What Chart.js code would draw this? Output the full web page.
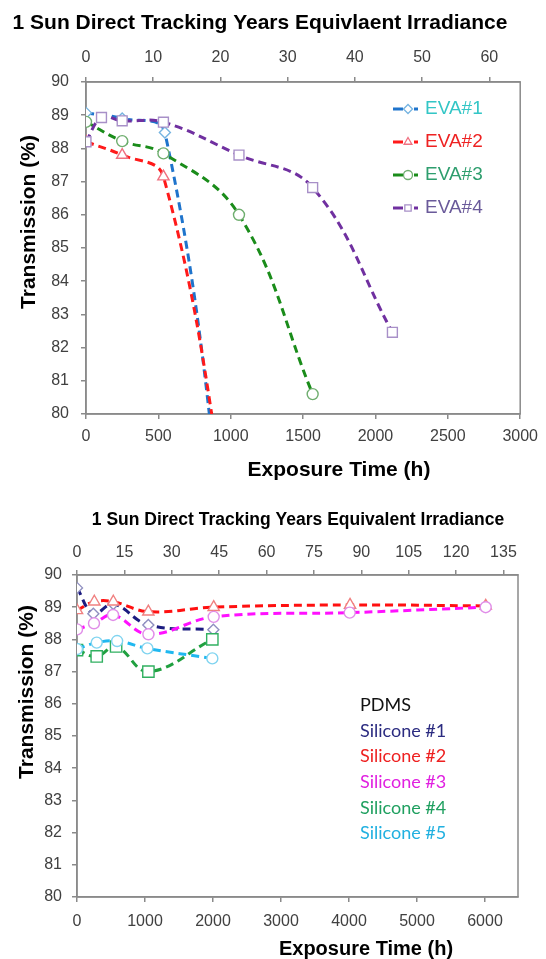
<!DOCTYPE html>
<html>
<head>
<meta charset="utf-8">
<script src="https://cdn.jsdelivr.net/npm/chart.js@4.4.1/dist/chart.umd.min.js"></script>
<style>
  body { margin: 0; background: #fff; }
  canvas { display: block; }
</style>
</head>
<body>
<canvas id="evaCV" width="546" height="490"></canvas>
<canvas id="siCV" width="546" height="469"></canvas>
<script>
// ---- top panel: EVA ----
const evaLabels = ['EVA#1', 'EVA#2', 'EVA#3', 'EVA#4'];
const eva1Hours = [0, 250, 545, 1057];
const eva1Trans = [89.07, 88.9, 88.48, 72.5];
const eva2Hours = [0, 250, 535, 1057];
const eva2Trans = [88.2, 87.8, 87.15, 75.0];
const eva3Hours = [0, 250, 535, 1057, 1566];
const eva3Trans = [88.8, 88.22, 87.85, 86.0, 80.6];
const eva4Hours = [0, 107, 250, 535, 1057, 1566, 2117];
const eva4Trans = [88.2, 88.93, 88.83, 88.79, 87.8, 86.82, 82.46];
const evaYearsMax = 64.6;   // top axis, years equivalent at 3000 h

// ---- bottom panel: silicones ----
const siLabels = ['PDMS', 'Silicone #1', 'Silicone #2', 'Silicone #3', 'Silicone #4', 'Silicone #5'];
const pdmsHours = [];
const pdmsTrans = [];
const si1Hours = [0, 240, 534, 1049, 2005];
const si1Trans = [89.6, 88.8, 89.1, 88.45, 88.3];
const si2Hours = [0, 255, 534, 1049, 2010, 4015, 6010];
const si2Trans = [88.9, 89.17, 89.17, 88.86, 89.0, 89.07, 89.04];
const si3Hours = [0, 250, 530, 1050, 2010, 4010, 6010];
const si3Trans = [88.31, 88.5, 88.76, 88.16, 88.7, 88.83, 89.0];
const si4Hours = [0, 290, 575, 1050, 1990];
const si4Trans = [87.67, 87.47, 87.78, 87.0, 88.0];
const si5Hours = [0, 290, 590, 1035, 1990];
const si5Trans = [87.7, 87.9, 87.95, 87.72, 87.41];
const siHoursMax = 6485;
const siYearsMax = 139.6;

const tickFont = { family: "'Liberation Sans', Arial, sans-serif", size: 16 };
const tickColor = '#404040';
const axisColor = '#8a8a8a';
const boldFont = "bold 21px 'Liberation Sans', Arial, sans-serif";

function pts(hours, vals) {
  return hours.map(function(h, i) { return { x: h, y: vals[i] }; });
}

function series(label, data, line, mark, text, style, radius, order) {
  return {
    label: label,
    data: data,
    borderColor: line,
    backgroundColor: line,
    textColor: text,
    borderWidth: 3,
    borderDash: [8, 5],
    pointStyle: style,
    pointRadius: radius,
    pointBorderColor: mark,
    pointBackgroundColor: '#ffffff',
    pointBorderWidth: 1.4,
    tension: 0.4,
    fill: false,
    order: order
  };
}

function marker(ctx, style, x, y, r) {
  ctx.beginPath();
  if (style === 'circle') {
    ctx.arc(x, y, r, 0, Math.PI * 2);
  } else if (style === 'rect') {
    const s = r * Math.SQRT1_2;
    ctx.rect(x - s, y - s, 2 * s, 2 * s);
  } else if (style === 'rectRot') {
    ctx.moveTo(x - r, y); ctx.lineTo(x, y - r); ctx.lineTo(x + r, y); ctx.lineTo(x, y + r); ctx.closePath();
  } else if (style === 'triangle') {
    let a = 0;
    ctx.moveTo(x + Math.sin(a) * r, y - Math.cos(a) * r);
    a += Math.PI * 2 / 3;
    ctx.lineTo(x + Math.sin(a) * r, y - Math.cos(a) * r);
    a += Math.PI * 2 / 3;
    ctx.lineTo(x + Math.sin(a) * r, y - Math.cos(a) * r);
    ctx.closePath();
  }
  ctx.fill();
  ctx.stroke();
}

// plot frame (Excel style box)
const frame = {
  id: 'frame',
  beforeDatasetsDraw(chart) {
    const a = chart.chartArea, ctx = chart.ctx;
    ctx.save();
    ctx.strokeStyle = axisColor;
    ctx.lineWidth = 1.5;
    ctx.strokeRect(a.left, a.top, a.right - a.left, a.bottom - a.top);
    ctx.restore();
  }
};

// free text: titles, axis titles
const textLayer = {
  id: 'textLayer',
  afterDraw(chart, args, opts) {
    const ctx = chart.ctx;
    (opts.items || []).forEach(function(t) {
      ctx.save();
      ctx.font = t.font;
      ctx.fillStyle = t.color || '#000';
      ctx.textAlign = 'center';
      ctx.textBaseline = 'middle';
      ctx.translate(t.x, t.y);
      if (t.rotate) ctx.rotate(t.rotate);
      ctx.fillText(t.text, 0, 0);
      ctx.restore();
    });
  }
};

// legend drawn inside the plot
const boxLegend = {
  id: 'boxLegend',
  afterDraw(chart, args, opts) {
    const ctx = chart.ctx;
    chart.data.datasets.forEach(function(ds, i) {
      const y = opts.rows[i];
      ctx.save();
      if (opts.symbol) {
        const x = opts.x;
        ctx.strokeStyle = ds.borderColor;
        ctx.lineWidth = 3;
        ctx.beginPath(); ctx.moveTo(x, y); ctx.lineTo(x + 10, y); ctx.stroke();
        ctx.beginPath(); ctx.moveTo(x + 21, y); ctx.lineTo(x + 25, y); ctx.stroke();
        ctx.lineWidth = 1.3;
        ctx.strokeStyle = ds.pointBorderColor;
        ctx.fillStyle = '#ffffff';
        marker(ctx, ds.pointStyle, x + 15, y, 4.5);
      }
      ctx.font = opts.font;
      ctx.fillStyle = ds.textColor;
      ctx.textAlign = 'left';
      ctx.textBaseline = 'middle';
      ctx.fillText(ds.label, opts.textX, y);
      ctx.restore();
    });
  }
};

function linScale(pos, min, max, step, pad, size) {
  return {
    type: 'linear',
    position: pos,
    min: min,
    max: max,
    ticks: {
      stepSize: step, includeBounds: false, color: tickColor, font: tickFont, padding: pad, maxRotation: 0,
      autoSkip: false,
      callback: function(v) { return String(Math.round(v * 100) / 100); }
    },
    grid: { drawOnChartArea: false, tickLength: 5, color: axisColor, lineWidth: 1.5 },
    border: { color: axisColor, width: 1.5 },
    afterBuildTicks: function(s) {
      const t = [];
      for (let v = min; v <= max + 1e-9; v += step) t.push({ value: v });
      s.ticks = t;
    },
    afterFit: function(s) {
      if (pos === 'left') s.width = size; else s.height = size;
    }
  };
}

(function(){
  const ctx = document.getElementById('evaCV');

  new Chart(ctx, {
    type: 'line',
    data: {
      datasets: [
        series(evaLabels[0], pts(eva1Hours, eva1Trans), '#1f74cc', '#76b4e0', '#33c6c6', 'rectRot', 5.5, 4),
        series(evaLabels[1], pts(eva2Hours, eva2Trans), '#ff1a1a', '#f07080', '#ee2222', 'triangle', 6.5, 3),
        series(evaLabels[2], pts(eva3Hours, eva3Trans), '#1a8c1a', '#6fae6f', '#2e9e6e', 'circle', 5.5, 2),
        series(evaLabels[3], pts(eva4Hours, eva4Trans), '#7030a0', '#a890c8', '#6a5a9a', 'rect', 7, 1)
      ]
    },
    options: {
      responsive: false,
      animation: false,
      layout: { padding: { left: 0, right: 20, top: 0, bottom: 0 } },
      elements: { line: { capBezierPoints: false } },
      scales: {
        x: linScale('bottom', 0, 3000, 500, 8, 76),
        x2: linScale('top', 0, evaYearsMax, 10, 10, 82),
        y: linScale('left', 80, 90, 1, 12, 86)
      },
      plugins: {
        legend: { display: false },
        title: { display: false },
        tooltip: { enabled: false },
        textLayer: {
          items: [
            { text: '1 Sun Direct Tracking Years Equivlaent Irradiance', x: 260, y: 23, font: boldFont },
            { text: 'Exposure Time (h)', x: 339, y: 470, font: boldFont },
            { text: 'Transmission (%)', x: 29, y: 222, font: boldFont, rotate: -Math.PI / 2 }
          ]
        },
        boxLegend: {
          symbol: true,
          x: 393,
          textX: 425,
          rows: [109, 142, 175, 208],
          font: "19px 'Liberation Sans', Arial, sans-serif"
        }
      }
    },
    plugins: [frame, textLayer, boxLegend]
  });
})();


(function(){
  const ctx = document.getElementById('siCV');

  new Chart(ctx, {
    type: 'line',
    data: {
      datasets: [
        series(siLabels[0], pts(pdmsHours, pdmsTrans), '#000000', '#808080', '#111111', 'rectRot', 5.5, 6),
        series(siLabels[1], pts(si1Hours, si1Trans), '#1c1c80', '#8f8fc0', '#2b2b80', 'rectRot', 5.5, 5),
        series(siLabels[2], pts(si2Hours, si2Trans), '#ff1010', '#f08080', '#ee2020', 'triangle', 6.5, 4),
        series(siLabels[3], pts(si3Hours, si3Trans), '#ff10ff', '#e08ee8', '#e020e0', 'circle', 5.5, 3),
        series(siLabels[4], pts(si4Hours, si4Trans), '#20a040', '#30b060', '#20a060', 'rect', 8, 2),
        series(siLabels[5], pts(si5Hours, si5Trans), '#20b8f0', '#80d4f0', '#20b0e0', 'circle', 5.5, 1)
      ]
    },
    options: {
      responsive: false,
      animation: false,
      layout: { padding: { left: 0, right: 28, top: 0, bottom: 0 } },
      elements: { line: { capBezierPoints: false } },
      scales: {
        x: linScale('bottom', 0, siHoursMax, 1000, 10, 62),
        x2: linScale('top', 0, siYearsMax, 15, 8, 85),
        y: linScale('left', 80, 90, 1, 10, 77)
      },
      plugins: {
        legend: { display: false },
        title: { display: false },
        tooltip: { enabled: false },
        textLayer: {
          items: [
            { text: '1 Sun Direct Tracking Years Equivalent Irradiance', x: 298, y: 30, font: "bold 17.5px 'Liberation Sans', Arial, sans-serif" },
            { text: 'Exposure Time (h)', x: 366, y: 459, font: "bold 20px 'Liberation Sans', Arial, sans-serif" },
            { text: 'Transmission (%)', x: 27, y: 202, font: boldFont, rotate: -Math.PI / 2 }
          ]
        },
        boxLegend: {
          symbol: false,
          textX: 360,
          rows: [215, 241, 266, 292, 318, 343],
          font: "18px Lato, 'Open Sans', sans-serif"
        }
      }
    },
    plugins: [frame, textLayer, boxLegend]
  });
})();
</script>
</body>
</html>
